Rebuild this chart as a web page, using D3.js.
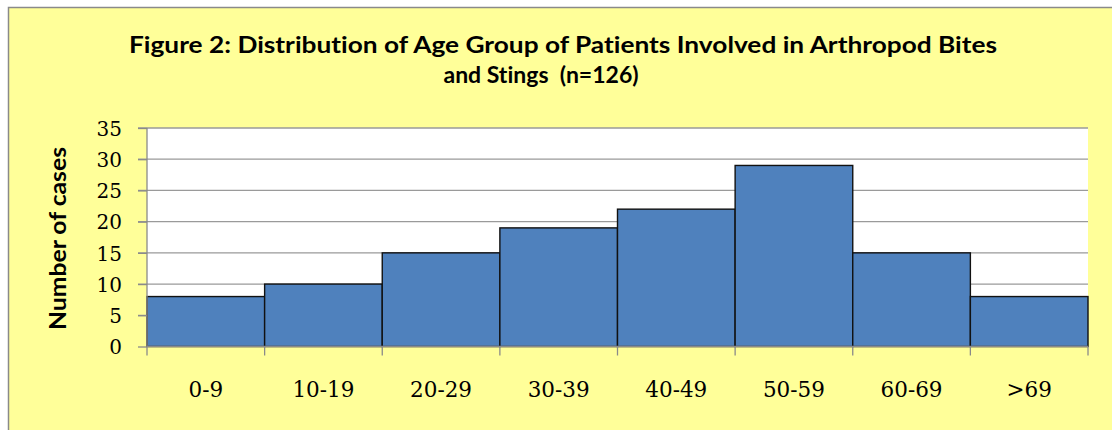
<!DOCTYPE html>
<html><head><meta charset="utf-8">
<script src="https://cdn.jsdelivr.net/npm/d3@7"></script>
<style>html,body{margin:0;padding:0;background:#fff;}svg{display:block;}</style>
</head><body>
<svg id="chart" width="1112" height="430"></svg>
<script>
const categories = ["0-9","10-19","20-29","30-39","40-49","50-59","60-69",">69"];
const values = [8,10,15,19,22,29,15,8];
const yTicks = [0,5,10,15,20,25,30,35];
const titleLines = ["Figure 2: Distribution of Age Group of Patients Involved in Arthropod Bites","and Stings  (n=126)"];
const yTitle = "Number of cases";

const svg = d3.select("#chart");
svg.append("rect").attr("x",8.5).attr("y",7.5).attr("width",1112).attr("height",430)
  .attr("fill","#FFFF99").attr("stroke","#8a8a8a").attr("stroke-width",1.5);

const m = {left:147, right:1088, top:128, bottom:346.5};
const x = d3.scaleBand().domain(categories).range([m.left,m.right]).padding(0);
const y = d3.scaleLinear().domain([0,35]).range([m.bottom,m.top]);

svg.append("rect").attr("x",m.left).attr("y",m.top).attr("width",m.right-m.left).attr("height",m.bottom-m.top).attr("fill","#fff");

// gridlines
svg.append("g").selectAll("line").data(yTicks.filter(d=>d>0)).join("line")
  .attr("x1",m.left-9).attr("x2",m.right).attr("y1",d=>y(d)).attr("y2",d=>y(d))
  .attr("stroke","#9a9a9a").attr("stroke-width",1.3);

// bars
svg.append("g").selectAll("rect").data(values).join("rect")
  .attr("x",(d,i)=>x(categories[i])).attr("width",x.bandwidth())
  .attr("y",d=>y(d)).attr("height",d=>y(0)-y(d))
  .attr("fill","#4F81BD").attr("stroke","#111").attr("stroke-width",1.4);

// y axis
const yAxis = d3.axisLeft(y).tickValues(yTicks).tickSize(9).tickPadding(16);
const gy = svg.append("g").attr("transform",`translate(${m.left},0)`).call(yAxis);
gy.selectAll("path,line").attr("stroke","#8a8a8a").attr("stroke-width",1.3);
gy.select(".domain").attr("d",`M0,${m.top}V${m.bottom}`);
gy.selectAll("text").attr("font-family","DejaVu Serif").attr("font-size",20).attr("fill","#000").attr("dy","0.36em");

// x axis
const xEdges = categories.map(c=>x(c)).concat([m.right]);
const gx = svg.append("g");
gx.append("line").attr("x1",m.left).attr("x2",m.right).attr("y1",m.bottom).attr("y2",m.bottom).attr("stroke","#8a8a8a").attr("stroke-width",1.3);
gx.selectAll("line.t").data(xEdges).join("line").attr("class","t")
  .attr("x1",d=>d).attr("x2",d=>d).attr("y1",m.bottom).attr("y2",m.bottom+9)
  .attr("stroke","#8a8a8a").attr("stroke-width",1.3);
gx.selectAll("text").data(categories).join("text")
  .attr("x",d=>x(d)+x.bandwidth()/2).attr("y",397)
  .attr("text-anchor","middle").attr("font-family","DejaVu Serif").attr("font-size",21.5).attr("fill","#000")
  .text(d=>d);

// titles
svg.append("text").attr("x",129).attr("y",53)
  .attr("font-family","Lato").attr("font-weight","bold").attr("font-size",23).attr("fill","#000")
  .style("font-variant-ligatures","none")
  .attr("textLength",868).attr("lengthAdjust","spacingAndGlyphs").text(titleLines[0]);
svg.append("text").attr("x",541).attr("y",83).attr("text-anchor","middle")
  .attr("font-family","Lato").attr("font-weight","bold").attr("font-size",23).attr("fill","#000")
  .style("font-variant-ligatures","none")
  .attr("xml:space","preserve").text(titleLines[1]);

svg.append("text").attr("transform","translate(66,238.5) rotate(-90)").attr("text-anchor","middle")
  .attr("font-family","Lato").attr("font-weight","bold").attr("font-size",23).attr("fill","#000")
  .attr("textLength",183).attr("lengthAdjust","spacingAndGlyphs").text(yTitle);
</script>
</body></html>
